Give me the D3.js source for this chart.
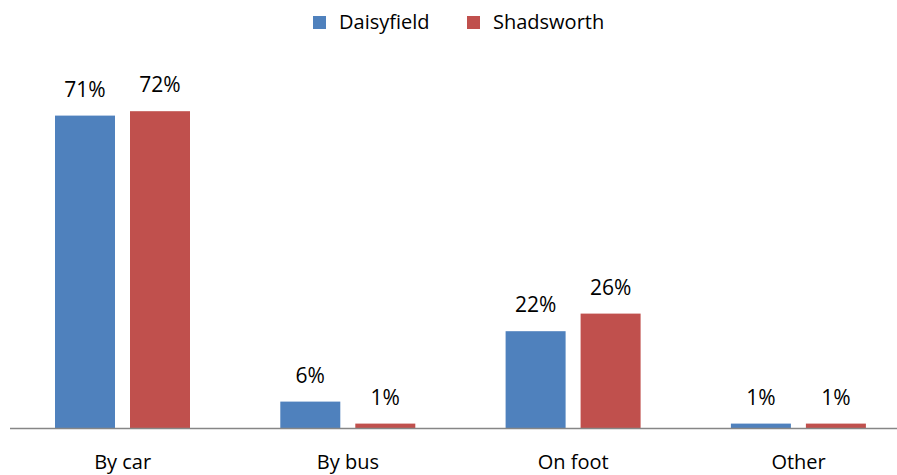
<!DOCTYPE html>
<html>
<head>
  <meta charset="utf-8">
  <script src="https://d3js.org/d3.v7.min.js"></script>
  <style>
    body { margin: 0; background: #fff; }
    text { font-family: "Open Sans", sans-serif; fill: #000; }
  </style>
</head>
<body>
  <div id="chart"></div>
  <script>
    // chart data
    var categories = ["By car", "By bus", "On foot", "Other"];
    var seriesNames = ["Daisyfield", "Shadsworth"];
    var daisyfield = [71, 6, 22, 1];
    var shadsworth = [72, 1, 26, 1];
    var colors = ["#4F81BD", "#C0504D"];

    var width = 897, height = 475;
    var svg = d3.select("#chart").append("svg")
      .attr("width", width)
      .attr("height", height);

    // plot area: axis runs from x=10, one band every ~225px
    var x0 = d3.scaleBand()
      .domain(categories)
      .range([10, 10 + 4 * 225.3])
      .paddingInner(0)
      .paddingOuter(0);

    var x1 = d3.scaleBand()
      .domain(seriesNames)
      .range([45, 45 + 135])
      .paddingInner(0.2);

    var y = d3.scaleLinear().domain([0, 80]).range([428, 76]);

    var rows = categories.map(function(c, i) {
      return { cat: c, values: [daisyfield[i], shadsworth[i]] };
    });

    var groups = svg.selectAll("g.cat")
      .data(rows)
      .enter().append("g")
      .attr("class", "cat")
      .attr("transform", function(d) { return "translate(" + x0(d.cat) + ",0)"; });

    groups.selectAll("rect")
      .data(function(d) { return d.values.map(function(v, j) { return { s: seriesNames[j], v: v, j: j }; }); })
      .enter().append("rect")
      .attr("x", function(d) { return x1(d.s); })
      .attr("width", x1.bandwidth())
      .attr("y", function(d) { return y(d.v); })
      .attr("height", function(d) { return y(0) - y(d.v); })
      .attr("fill", function(d) { return colors[d.j]; });

    groups.selectAll("text.lbl")
      .data(function(d) { return d.values.map(function(v, j) { return { s: seriesNames[j], v: v }; }); })
      .enter().append("text")
      .attr("class", "lbl")
      .attr("x", function(d) { return x1(d.s) + x1.bandwidth() / 2; })
      .attr("y", function(d) { return y(d.v) - 19; })
      .attr("text-anchor", "middle")
      .style("font-size", "21px")
      .text(function(d) { return d.v + "%"; });

    // x axis
    var xAxis = svg.append("g")
      .attr("transform", "translate(0," + y(0) + ")")
      .call(d3.axisBottom(x0).tickSize(0).tickPadding(0));
    xAxis.select(".domain")
      .attr("d", "M10,0.5H" + width)
      .attr("stroke", "#868686")
      .attr("stroke-width", 1.5);
    xAxis.selectAll(".tick text")
      .attr("y", 41)
      .attr("dy", 0)
      .style("font-size", "20px")
      .style("font-family", "'Open Sans', sans-serif")
      .attr("fill", "#000");

    // legend
    var legendX = [313, 467];
    var legend = svg.selectAll("g.legend")
      .data(seriesNames)
      .enter().append("g")
      .attr("class", "legend")
      .attr("transform", function(d, i) { return "translate(" + legendX[i] + ",16)"; });
    legend.append("rect")
      .attr("width", 13).attr("height", 13)
      .attr("fill", function(d, i) { return colors[i]; });
    legend.append("text")
      .attr("x", 26)
      .attr("y", 13)
      .style("font-size", "20px")
      .text(function(d) { return d; });
  </script>
</body>
</html>
